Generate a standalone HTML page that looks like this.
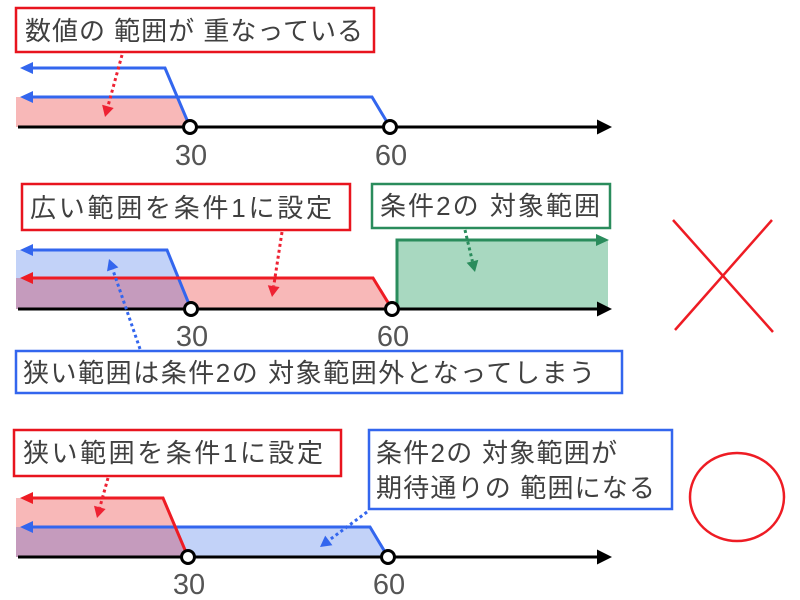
<!DOCTYPE html>
<html>
<head>
<meta charset="utf-8">
<style>
  html,body{margin:0;padding:0;background:#fff;}
  svg{display:block;}
  .t{font-family:"Liberation Sans","Noto Sans CJK JP",sans-serif;font-size:26px;fill:#404040;}
  .n{font-family:"Liberation Sans",sans-serif;font-size:29px;fill:#555;}
</style>
</head>
<body>
<svg width="800" height="600" viewBox="0 0 800 600" xmlns="http://www.w3.org/2000/svg">
  <rect width="800" height="600" fill="#fff"/>

  <!-- ===== Section 1 ===== -->
  <polygon points="16,97 177,97 190,127 16,127" fill="#f8b8b8"/>
  <line x1="18" y1="127" x2="600" y2="127" stroke="#000" stroke-width="3"/>
  <polygon points="612,127 597,119.5 597,134.5" fill="#000"/>
  <polyline points="30,68 165,68 190,127" fill="none" stroke="#3366ee" stroke-width="3"/>
  <polygon points="20,68 33,62 33,74" fill="#3366ee"/>
  <polyline points="30,97 372,97 390,127" fill="none" stroke="#3366ee" stroke-width="3"/>
  <polygon points="20,97 33,91 33,103" fill="#3366ee"/>
  <circle cx="190" cy="127" r="6.5" fill="#fff" stroke="#000" stroke-width="3"/>
  <circle cx="390" cy="127" r="6.5" fill="#fff" stroke="#000" stroke-width="3"/>
  <text class="n" x="191" y="165" text-anchor="middle">30</text>
  <text class="n" x="391" y="165" text-anchor="middle">60</text>
  <rect x="16" y="8" width="358" height="44" fill="#fff" stroke="#e8141e" stroke-width="2.5"/>
  <text class="t" x="25" y="40" textLength="338" lengthAdjust="spacing">数値の 範囲が 重なっている</text>
  <line x1="122" y1="55" x2="107.9" y2="106.4" stroke="#ee2233" stroke-width="3" stroke-dasharray="3 3"/>
  <polygon points="105,117 113.7,108 102.1,104.8" fill="#ee2233"/>

  <!-- ===== Section 2 ===== -->
  <polygon points="397,240 608,240 608,309 397,309" fill="#a8d8c0"/>
  <polygon points="16,250 167,250 191,309 16,309" fill="#c2d2f8"/>
  <polygon points="16,278 373,278 392,309 16,309" fill="#f8b8b8"/>
  <polygon points="16,278 178.4,278 191,309 16,309" fill="#c59bbd"/>
  <line x1="18" y1="309" x2="600" y2="309" stroke="#000" stroke-width="3"/>
  <polygon points="612,309 597,301.5 597,316.5" fill="#000"/>
  <polyline points="397,309 397,240 598,240" fill="none" stroke="#2a8c5c" stroke-width="3"/>
  <polygon points="609,240 596,234 596,246" fill="#2a8c5c"/>
  <polyline points="30,250 167,250 191,309" fill="none" stroke="#3366ee" stroke-width="3"/>
  <polygon points="20,250 33,244 33,256" fill="#3366ee"/>
  <polyline points="30,278 373,278 392,309" fill="none" stroke="#ee1c24" stroke-width="3"/>
  <polygon points="20,278 33,272 33,284" fill="#ee1c24"/>
  <circle cx="191" cy="309" r="6.5" fill="#fff" stroke="#000" stroke-width="3"/>
  <circle cx="392" cy="309" r="6.5" fill="#fff" stroke="#000" stroke-width="3"/>
  <text class="n" x="192" y="346" text-anchor="middle">30</text>
  <text class="n" x="393" y="346" text-anchor="middle">60</text>
  <rect x="22" y="184" width="328" height="46" fill="#fff" stroke="#e8141e" stroke-width="2.5"/>
  <text class="t" x="30" y="217" textLength="302" lengthAdjust="spacing">広い範囲を条件1に設定</text>
  <rect x="372" y="184" width="238" height="44" fill="#fff" stroke="#2a8c5c" stroke-width="2.5"/>
  <text class="t" x="380" y="215" textLength="220" lengthAdjust="spacing">条件2の 対象範囲</text>
  <rect x="16" y="351" width="606" height="42" fill="#fff" stroke="#3366ee" stroke-width="2.5"/>
  <text class="t" x="23" y="382" textLength="572" lengthAdjust="spacing">狭い範囲は条件2の 対象範囲外となってしまう</text>
  <line x1="282" y1="232" x2="273.7" y2="286.1" stroke="#ee2233" stroke-width="3" stroke-dasharray="3 3"/>
  <polygon points="272,297 279.6,287 267.8,285.2" fill="#ee2233"/>
  <line x1="465" y1="230" x2="472.4" y2="261.3" stroke="#2a8c5c" stroke-width="3" stroke-dasharray="3 3"/>
  <polygon points="475,272 478.3,259.9 466.6,262.7" fill="#2a8c5c"/>
  <line x1="140" y1="349" x2="112.7" y2="269.4" stroke="#3366ee" stroke-width="3" stroke-dasharray="3 3"/>
  <polygon points="109,259 118.4,267.4 107,271.4" fill="#3366ee"/>
  <line x1="673" y1="220" x2="773" y2="332" stroke="#ee1c24" stroke-width="2.5"/>
  <line x1="772" y1="220" x2="675" y2="330" stroke="#ee1c24" stroke-width="2.5"/>

  <!-- ===== Section 3 ===== -->
  <polygon points="16,498 163,498 188,557 16,557" fill="#f8b8b8"/>
  <polygon points="16,527 370,527 388,557 16,557" fill="#c2d2f8"/>
  <polygon points="16,527 175.3,527 188,557 16,557" fill="#c59bbd"/>
  <line x1="18" y1="557" x2="600" y2="557" stroke="#000" stroke-width="3"/>
  <polygon points="612,557 597,549.5 597,564.5" fill="#000"/>
  <polyline points="30,527 370,527 388,557" fill="none" stroke="#3366ee" stroke-width="3"/>
  <polygon points="20,527 33,521 33,533" fill="#3366ee"/>
  <polyline points="30,498 163,498 188,557" fill="none" stroke="#ee1c24" stroke-width="3"/>
  <polygon points="20,498 33,492 33,504" fill="#ee1c24"/>
  <circle cx="188" cy="557" r="6.5" fill="#fff" stroke="#000" stroke-width="3"/>
  <circle cx="388" cy="557" r="6.5" fill="#fff" stroke="#000" stroke-width="3"/>
  <text class="n" x="189" y="594" text-anchor="middle">30</text>
  <text class="n" x="389" y="594" text-anchor="middle">60</text>
  <rect x="14" y="430" width="327" height="46" fill="#fff" stroke="#e8141e" stroke-width="2.5"/>
  <text class="t" x="23" y="462" textLength="300" lengthAdjust="spacing">狭い範囲を条件1に設定</text>
  <rect x="369" y="430" width="303" height="79" fill="#fff" stroke="#3366ee" stroke-width="2.5"/>
  <text class="t" x="376" y="462" textLength="241" lengthAdjust="spacing">条件2の 対象範囲が</text>
  <text class="t" x="376" y="497" textLength="279" lengthAdjust="spacing">期待通りの 範囲になる</text>
  <line x1="108" y1="478" x2="99.8" y2="507.4" stroke="#ee2233" stroke-width="3" stroke-dasharray="3 3"/>
  <polygon points="97,518 105.6,509 94,505.8" fill="#ee2233"/>
  <line x1="367" y1="512" x2="328.8" y2="540.4" stroke="#3366ee" stroke-width="3" stroke-dasharray="3 3"/>
  <polygon points="320,547 332.4,545.2 325.2,535.6" fill="#3366ee"/>
  <ellipse cx="737" cy="497" rx="47" ry="44" fill="none" stroke="#ee1c24" stroke-width="2.5"/>
</svg>
</body>
</html>
